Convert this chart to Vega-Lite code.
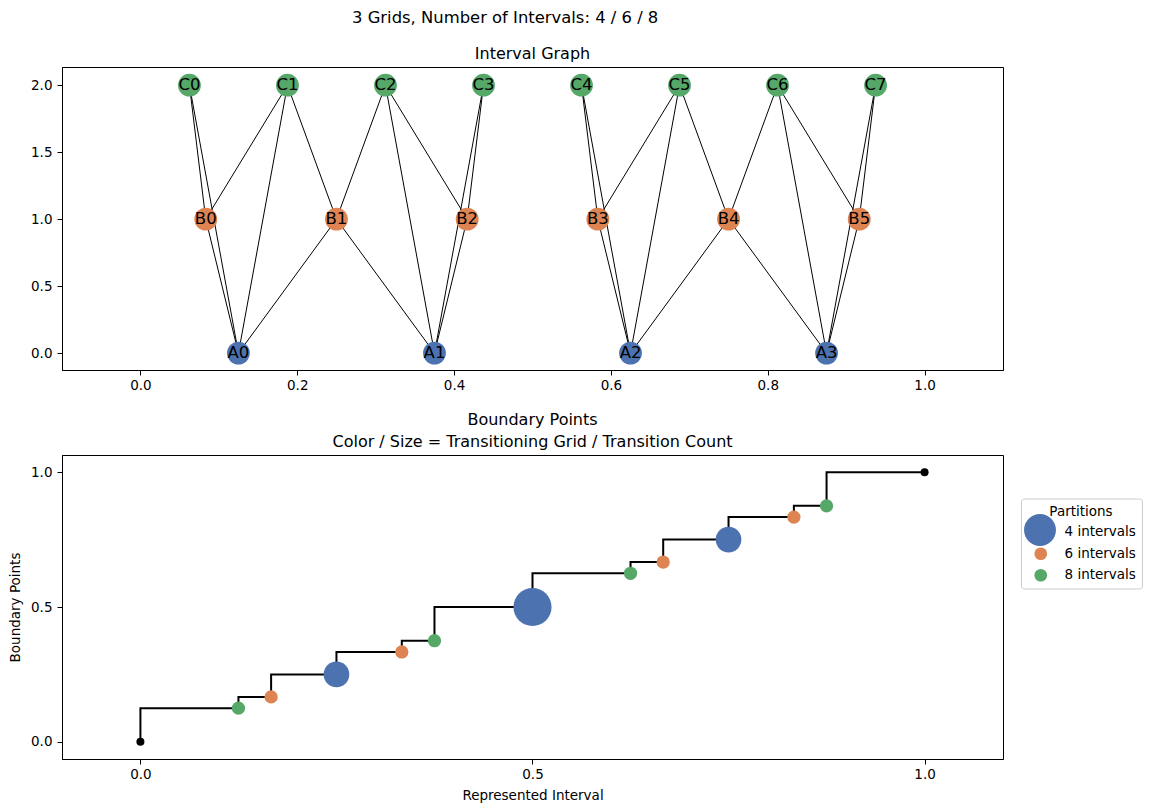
{
  "$schema": "https://vega.github.io/schema/vega-lite/v6.json",
  "padding": {"left": 8, "top": 10, "right": 5, "bottom": 5},
  "title": {"text": "3 Grids, Number of Intervals: 4 / 6 / 8", "anchor": "start", "dx": 344, "fontSize": 16.4, "fontWeight": "normal", "font": "DejaVu Sans", "color": "black", "offset": 19},
  "config": {
    "font": "DejaVu Sans",
    "view": {"stroke": "black", "strokeWidth": 1},
    "axis": {"grid": false, "domainColor": "black", "tickColor": "black", "tickSize": 5, "labelPadding": 5, "labelColor": "black", "labelFontSize": 13.5, "labelFont": "DejaVu Sans", "titleFontSize": 13.5, "titleFontWeight": "normal", "titleColor": "black", "titleFont": "DejaVu Sans"},
    "title": {"fontSize": 16, "fontWeight": "normal", "color": "black", "font": "DejaVu Sans", "offset": 5}
  },
  "datasets": {
    "nodes": [
      {"name": "A0", "x": 0.125, "y": 0, "grid": "4 intervals"},
      {"name": "A1", "x": 0.375, "y": 0, "grid": "4 intervals"},
      {"name": "A2", "x": 0.625, "y": 0, "grid": "4 intervals"},
      {"name": "A3", "x": 0.875, "y": 0, "grid": "4 intervals"},
      {"name": "B0", "x": 0.08333, "y": 1, "grid": "6 intervals"},
      {"name": "B1", "x": 0.25, "y": 1, "grid": "6 intervals"},
      {"name": "B2", "x": 0.41667, "y": 1, "grid": "6 intervals"},
      {"name": "B3", "x": 0.58333, "y": 1, "grid": "6 intervals"},
      {"name": "B4", "x": 0.75, "y": 1, "grid": "6 intervals"},
      {"name": "B5", "x": 0.91667, "y": 1, "grid": "6 intervals"},
      {"name": "C0", "x": 0.0625, "y": 2, "grid": "8 intervals"},
      {"name": "C1", "x": 0.1875, "y": 2, "grid": "8 intervals"},
      {"name": "C2", "x": 0.3125, "y": 2, "grid": "8 intervals"},
      {"name": "C3", "x": 0.4375, "y": 2, "grid": "8 intervals"},
      {"name": "C4", "x": 0.5625, "y": 2, "grid": "8 intervals"},
      {"name": "C5", "x": 0.6875, "y": 2, "grid": "8 intervals"},
      {"name": "C6", "x": 0.8125, "y": 2, "grid": "8 intervals"},
      {"name": "C7", "x": 0.9375, "y": 2, "grid": "8 intervals"}
    ],
    "edges": [
      {"x": 0.125, "y": 0, "x2": 0.08333, "y2": 1},
      {"x": 0.125, "y": 0, "x2": 0.25, "y2": 1},
      {"x": 0.375, "y": 0, "x2": 0.25, "y2": 1},
      {"x": 0.375, "y": 0, "x2": 0.41667, "y2": 1},
      {"x": 0.625, "y": 0, "x2": 0.58333, "y2": 1},
      {"x": 0.625, "y": 0, "x2": 0.75, "y2": 1},
      {"x": 0.875, "y": 0, "x2": 0.75, "y2": 1},
      {"x": 0.875, "y": 0, "x2": 0.91667, "y2": 1},
      {"x": 0.125, "y": 0, "x2": 0.0625, "y2": 2},
      {"x": 0.125, "y": 0, "x2": 0.1875, "y2": 2},
      {"x": 0.375, "y": 0, "x2": 0.3125, "y2": 2},
      {"x": 0.375, "y": 0, "x2": 0.4375, "y2": 2},
      {"x": 0.625, "y": 0, "x2": 0.5625, "y2": 2},
      {"x": 0.625, "y": 0, "x2": 0.6875, "y2": 2},
      {"x": 0.875, "y": 0, "x2": 0.8125, "y2": 2},
      {"x": 0.875, "y": 0, "x2": 0.9375, "y2": 2},
      {"x": 0.08333, "y": 1, "x2": 0.0625, "y2": 2},
      {"x": 0.08333, "y": 1, "x2": 0.1875, "y2": 2},
      {"x": 0.25, "y": 1, "x2": 0.1875, "y2": 2},
      {"x": 0.25, "y": 1, "x2": 0.3125, "y2": 2},
      {"x": 0.41667, "y": 1, "x2": 0.3125, "y2": 2},
      {"x": 0.41667, "y": 1, "x2": 0.4375, "y2": 2},
      {"x": 0.58333, "y": 1, "x2": 0.5625, "y2": 2},
      {"x": 0.58333, "y": 1, "x2": 0.6875, "y2": 2},
      {"x": 0.75, "y": 1, "x2": 0.6875, "y2": 2},
      {"x": 0.75, "y": 1, "x2": 0.8125, "y2": 2},
      {"x": 0.91667, "y": 1, "x2": 0.8125, "y2": 2},
      {"x": 0.91667, "y": 1, "x2": 0.9375, "y2": 2}
    ],
    "steps": [
      {"x": 0, "y": 0},
      {"x": 0.125, "y": 0.125},
      {"x": 0.16667, "y": 0.16667},
      {"x": 0.25, "y": 0.25},
      {"x": 0.33333, "y": 0.33333},
      {"x": 0.375, "y": 0.375},
      {"x": 0.5, "y": 0.5},
      {"x": 0.625, "y": 0.625},
      {"x": 0.66667, "y": 0.66667},
      {"x": 0.75, "y": 0.75},
      {"x": 0.83333, "y": 0.83333},
      {"x": 0.875, "y": 0.875},
      {"x": 1, "y": 1}
    ],
    "ends": [
      {"x": 0, "y": 0},
      {"x": 1, "y": 1}
    ],
    "points": [
      {"x": 0.125, "y": 0.125, "grid": "8 intervals", "count": 1},
      {"x": 0.16667, "y": 0.16667, "grid": "6 intervals", "count": 1},
      {"x": 0.25, "y": 0.25, "grid": "4 intervals", "count": 2},
      {"x": 0.33333, "y": 0.33333, "grid": "6 intervals", "count": 1},
      {"x": 0.375, "y": 0.375, "grid": "8 intervals", "count": 1},
      {"x": 0.5, "y": 0.5, "grid": "4 intervals", "count": 3},
      {"x": 0.625, "y": 0.625, "grid": "8 intervals", "count": 1},
      {"x": 0.66667, "y": 0.66667, "grid": "6 intervals", "count": 1},
      {"x": 0.75, "y": 0.75, "grid": "4 intervals", "count": 2},
      {"x": 0.83333, "y": 0.83333, "grid": "6 intervals", "count": 1},
      {"x": 0.875, "y": 0.875, "grid": "8 intervals", "count": 1}
    ]
  },
  "vconcat": [
    {
      "width": 941,
      "height": 303,
      "title": {"text": "Interval Graph"},
      "layer": [
        {
          "data": {"name": "edges"},
          "mark": {"type": "rule", "color": "black", "strokeWidth": 1},
          "encoding": {
            "x": {"field": "x", "type": "quantitative", "scale": {"domain": [-0.1, 1.1], "nice": false, "zero": false}, "axis": {"values": [0, 0.2, 0.4, 0.6, 0.8, 1.0], "format": ".1f", "title": null, "labelPadding": 3}},
            "y": {"field": "y", "type": "quantitative", "scale": {"domain": [-0.126, 2.136], "nice": false, "zero": false}, "axis": {"values": [0, 0.5, 1, 1.5, 2], "format": ".1f", "title": null}},
            "x2": {"field": "x2"},
            "y2": {"field": "y2"}
          }
        },
        {
          "data": {"name": "nodes"},
          "mark": {"type": "circle", "size": 520, "opacity": 1},
          "encoding": {
            "x": {"field": "x", "type": "quantitative"},
            "y": {"field": "y", "type": "quantitative"},
            "color": {"field": "grid", "type": "nominal", "scale": {"domain": ["4 intervals", "6 intervals", "8 intervals"], "range": ["#4C72B0", "#DD8452", "#55A868"]}, "legend": null}
          }
        },
        {
          "data": {"name": "nodes"},
          "mark": {"type": "text", "fontSize": 16.5, "color": "black", "align": "center", "baseline": "middle"},
          "encoding": {
            "x": {"field": "x", "type": "quantitative"},
            "y": {"field": "y", "type": "quantitative"},
            "text": {"field": "name"}
          }
        }
      ]
    },
    {
      "width": 941,
      "height": 304,
      "title": {"text": ["Boundary Points", "Color / Size = Transitioning Grid / Transition Count"], "lineHeight": 22},
      "layer": [
        {
          "data": {"name": "steps"},
          "mark": {"type": "line", "color": "black", "strokeWidth": 2, "interpolate": "step-before"},
          "encoding": {
            "x": {"field": "x", "type": "quantitative", "scale": {"domain": [-0.1, 1.1], "nice": false, "zero": false}, "axis": {"values": [0, 0.5, 1.0], "format": ".1f", "title": "Represented Interval", "labelPadding": 3, "titlePadding": 8}},
            "y": {"field": "y", "type": "quantitative", "scale": {"domain": [-0.0635, 1.0635], "nice": false, "zero": false}, "axis": {"values": [0, 0.5, 1.0], "format": ".1f", "title": "Boundary Points", "titlePadding": 8}}
          }
        },
        {
          "data": {"name": "ends"},
          "mark": {"type": "circle", "size": 64, "color": "black", "opacity": 1},
          "encoding": {
            "x": {"field": "x", "type": "quantitative"},
            "y": {"field": "y", "type": "quantitative"}
          }
        },
        {
          "data": {"name": "points"},
          "transform": [{"filter": "datum.grid === '4 intervals'"}],
          "mark": {"type": "circle", "size": 0, "opacity": 1},
          "encoding": {
            "x": {"field": "x", "type": "quantitative"},
            "y": {"field": "y", "type": "quantitative"},
            "fill": {
              "field": "grid", "type": "nominal",
              "scale": {"domain": ["4 intervals"], "range": ["#4C72B0"]},
              "legend": {
                "title": null,
                "orient": "none",
                "legendX": 962,
                "legendY": 59,
                "symbolType": "circle",
                "symbolSize": 1018,
                "symbolOpacity": 1,
                "symbolStrokeWidth": 0,
                "symbolOffset": 0,
                "labelOpacity": 0,
                "labelExpr": "''",
                "labelFontSize": 13.5,
                "padding": 0,
                "encode": {"symbols": {"update": {"size": {"value": 1018}, "opacity": {"value": 1}, "fill": {"value": "#4C72B0"}}}}
              }
            }
          }
        },
        {
          "data": {"name": "points"},
          "mark": {"type": "circle", "opacity": 1},
          "encoding": {
            "x": {"field": "x", "type": "quantitative"},
            "y": {"field": "y", "type": "quantitative"},
            "size": {"field": "count", "type": "quantitative", "scale": {"domain": [1, 2, 3], "range": [177, 660, 1452]}, "legend": null},
            "color": {
              "field": "grid", "type": "nominal",
              "scale": {"domain": ["4 intervals", "6 intervals", "8 intervals"], "range": ["#4C72B0", "#DD8452", "#55A868"]},
              "legend": {
                "title": "Partitions",
                "orient": "none",
                "legendX": 959,
                "legendY": 43.5,
                "symbolType": "circle",
                "symbolSize": 161,
                "symbolOpacity": 1,
                "symbolStrokeWidth": 0,
                "symbolOffset": 7,
                "labelOffset": 17,
                "labelFontSize": 13.5,
                "labelColor": "black",
                "titleFontSize": 13.5,
                "titleFontWeight": "normal",
                "titleColor": "black",
                "titleAnchor": "middle",
                "titlePadding": 7.5,
                "rowPadding": 6.5,
                "padding": 6,
                "strokeColor": "#cccccc",
                "cornerRadius": 3
              }
            }
          }
        }
      ]
    }
  ],
  "spacing": 19,
  "resolve": {"scale": {"color": "independent", "size": "independent", "fill": "independent"}, "legend": {"color": "independent", "fill": "independent"}}
}
